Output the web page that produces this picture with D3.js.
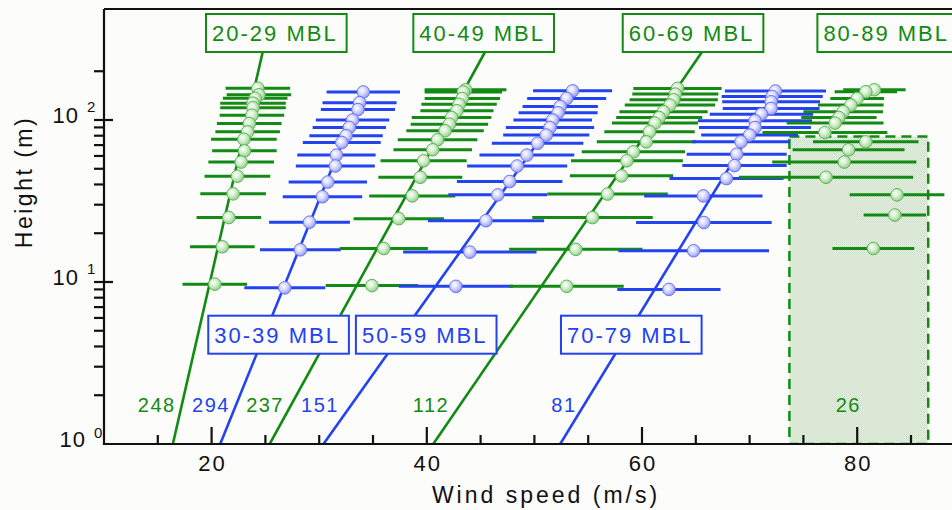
<!DOCTYPE html>
<html>
<head>
<meta charset="utf-8">
<script src="https://cdn.jsdelivr.net/npm/d3@7"></script>
<style>
  html, body { margin: 0; padding: 0; background: #fcfcfa; }
  svg { display: block; font-family: "Liberation Sans", Arial, Helvetica, sans-serif; }
</style>
</head>
<body>
<svg id="chart" width="952" height="510"></svg>
<script>
// ---- data -------------------------------------------------------------
// Mixed-boundary-layer depth bins and number of profiles in each
const layers = ["20-29 MBL", "30-39 MBL", "40-49 MBL", "50-59 MBL", "60-69 MBL", "70-79 MBL", "80-89 MBL"];
const counts = [248, 294, 237, 151, 112, 81, 26];

// mean height (m), mean wind speed (m/s) and standard deviation (m/s) per level
const h20 = [157, 143, 136, 127, 119, 107, 95, 84.5, 76, 64.5, 55, 45, 35, 25, 16.5, 9.7];
const u20 = [24.3, 24.4, 24.05, 23.85, 23.85, 23.75, 23.5, 23.35, 23.0, 23.05, 22.75, 22.4, 22.0, 21.6, 21.0, 20.3];
const s20 = [3.0, 3.0, 3.0, 3.05, 3.05, 3.0, 3.0, 3.0, 3.05, 3.0, 3.05, 3.05, 3.05, 3.0, 3.0, 3.0];

const h30 = [149, 128, 116, 100, 90, 80, 72.6, 60.7, 52, 41.4, 33.6, 23.4, 15.8, 9.2];
const u30 = [34.1, 33.75, 33.6, 33.1, 32.8, 32.5, 32.1, 31.6, 31.5, 30.8, 30.3, 29.1, 28.25, 26.8];
const s30 = [3.41, 3.44, 3.45, 3.41, 3.41, 3.41, 3.62, 3.64, 3.67, 3.64, 3.69, 3.76, 3.76, 3.76];

const h40 = [153.7, 149, 135.8, 125, 114, 103.6, 94.3, 85.8, 75.5, 65.5, 56, 44.3, 34, 24.6, 16.1, 9.5];
const u40 = [43.6, 43.4, 43.3, 43.0, 42.8, 42.3, 42.1, 41.7, 41.0, 40.55, 39.7, 39.4, 38.65, 37.4, 36.0, 34.9];
const s40 = [3.8, 3.6, 3.5, 3.5, 3.4, 3.7, 3.6, 3.6, 3.7, 3.65, 4.0, 3.9, 4.0, 4.2, 4.1, 4.3];

const h50 = [151.4, 135.8, 121, 110.8, 100, 89.9, 80.7, 71.9, 60.7, 52, 41.7, 34.5, 23.9, 15.3, 9.4];
const u50 = [53.55, 53.0, 52.4, 52.2, 51.7, 51.45, 51.1, 50.3, 49.3, 48.4, 47.7, 46.6, 45.5, 44.0, 42.7];
const s50 = [3.67, 3.67, 3.5, 3.67, 3.65, 4.1, 4.0, 4.25, 4.4, 4.65, 4.9, 4.6, 5.4, 6.2, 5.3];

const h60 = [156.6, 144.5, 133.3, 123.6, 112.5, 103.6, 95.7, 84.6, 73.3, 63.6, 56, 45.2, 34.9, 25, 15.9, 9.4];
const u60 = [63.3, 63.1, 62.95, 62.6, 62.0, 61.6, 61.2, 60.7, 60.4, 59.2, 58.6, 58.1, 56.8, 55.4, 53.85, 53.0];
const s60 = [4.1, 4.0, 4.1, 4.2, 4.1, 4.0, 4.0, 4.2, 4.6, 4.8, 5.2, 4.8, 5.6, 5.6, 6.2, 5.3];

const h70 = [151, 139.7, 129.5, 117.8, 108.7, 98.9, 89.9, 80.7, 73.3, 61.5, 52.3, 43.5, 34, 23.3, 15.6, 9.0];
const u70 = [72.4, 72.1, 72.0, 72.0, 71.1, 70.5, 70.5, 70.0, 69.2, 68.8, 68.6, 67.85, 65.7, 65.75, 64.8, 62.5];
const s70 = [4.7, 4.7, 4.55, 4.5, 4.8, 5.3, 5.2, 4.5, 4.55, 4.65, 4.85, 5.3, 5.5, 6.3, 7.0, 4.8];

const h80 = [153.7, 149.4, 135.8, 123.6, 112.5, 103.6, 95.7, 83.7, 73.3, 65.5, 55, 44.3, 34.5, 25.9, 16.1];
const u80 = [81.6, 80.8, 80.0, 79.4, 78.7, 78.3, 77.95, 77.0, 80.8, 79.2, 78.8, 77.1, 83.7, 83.5, 81.5];
const s80 = [2.9, 2.9, 2.5, 3.05, 3.7, 3.5, 4.5, 5.8, 4.9, 5.2, 6.7, 8.1, 4.4, 2.9, 3.8];

// log-law fits u(z) = a + b * log10(z): a = speed at 1 m, b = change per decade
const fitA = [16.4, 20.8, 25.4, 30.4, 40.6, 52.4, null];
const fitB = [3.45, 6.1, 8.27, 10.7, 10.32, 9.2, null];

// shaded envelope of the deepest layer
const envSpeed = [73.7, 86.6];
const envHeight = [1, 79];

// axis ticks
const xMajor = [20, 40, 60, 80];
const xMinor = [15, 25, 30, 35, 45, 50, 55, 65, 70, 75, 85];
const yMajor = [1, 10, 100];
const yMajorExp = ["0", "1", "2"];
const yMinor = [2, 3, 4, 5, 6, 7, 8, 9, 20, 30, 40, 50, 60, 70, 80, 90, 200];

// ---- layout -----------------------------------------------------------
const W = 952, H = 510;
const M = { left: 104, top: 9, bottom: 444 };
const GREEN = "#138a13", BLUE = "#2342f0";
const colors = [GREEN, BLUE, GREEN, BLUE, GREEN, BLUE, GREEN];
// label boxes: left edge in speed units, row 0 = top, 1 = bottom
const boxLeft = [19.48, 19.69, 38.75, 33.41, 58.21, 52.47, 76.3];
const boxRow = [0, 1, 0, 1, 0, 1, 0];
const boxTop = [14, 315.7], boxH = 38;
// count label centres in speed units
const countX = [14.9, 19.95, 24.97, 30.07, 40.39, 52.75, 79.17];

const series = [
  { h: h20, u: u20, s: s20 }, { h: h30, u: u30, s: s30 }, { h: h40, u: u40, s: s40 },
  { h: h50, u: u50, s: s50 }, { h: h60, u: u60, s: s60 }, { h: h70, u: u70, s: s70 },
  { h: h80, u: u80, s: s80 }
].map((d, i) => ({
  name: layers[i], count: counts[i], color: colors[i], a: fitA[i], b: fitB[i],
  pts: d.h.map((z, j) => ({ z, u: d.u[j], sd: d.s[j] }))
}));

const x = d3.scaleLinear().domain([10, 90]).range([M.left, M.left + 80 * 10.76]);
const y = d3.scaleLog().domain([1, Math.pow(10, 435 / 162)]).range([M.bottom, M.top]);

const svg = d3.select("#chart");
const defs = svg.append("defs");

defs.append("clipPath").attr("id", "plot")
  .append("rect").attr("x", M.left).attr("y", M.top).attr("width", W - M.left).attr("height", M.bottom - M.top);

// fine dotted texture for the shaded envelope
const pat = defs.append("pattern").attr("id", "dots").attr("width", 2).attr("height", 2)
  .attr("patternUnits", "userSpaceOnUse");
pat.append("rect").attr("width", 2).attr("height", 2).attr("fill", "#e2ecdf");
pat.append("rect").attr("width", 1).attr("height", 1).attr("fill", "#cfe0cb");
pat.append("rect").attr("x", 1).attr("y", 1).attr("width", 1).attr("height", 1).attr("fill", "#d6e5d2");

// glossy marker fills
function ballGradient(id, mid, edge) {
  const g = defs.append("radialGradient").attr("id", id)
    .attr("cx", "40%").attr("cy", "38%").attr("r", "65%");
  g.append("stop").attr("offset", "0%").attr("stop-color", "#ffffff");
  g.append("stop").attr("offset", "45%").attr("stop-color", mid);
  g.append("stop").attr("offset", "100%").attr("stop-color", edge);
}
ballGradient("ballG", "#d3efcd", "#8fcf86");
ballGradient("ballB", "#d7d9ff", "#8e96f4");

const plot = svg.append("g").attr("clip-path", "url(#plot)");

// envelope
plot.append("rect")
  .attr("x", x(envSpeed[0])).attr("y", y(envHeight[1]))
  .attr("width", x(envSpeed[1]) - x(envSpeed[0]))
  .attr("height", y(envHeight[0]) - y(envHeight[1]))
  .attr("fill", "url(#dots)")
  .attr("stroke", GREEN).attr("stroke-width", 2.5).attr("stroke-dasharray", "10,6");

// horizontal standard-deviation bars
series.forEach(s => {
  plot.append("g").selectAll("line").data(s.pts).join("line")
    .attr("x1", d => x(d.u - d.sd)).attr("x2", d => x(d.u + d.sd))
    .attr("y1", d => y(d.z)).attr("y2", d => y(d.z))
    .attr("stroke", s.color).attr("stroke-width", 3);
});

// log-law fit lines: green ones run up to their label box, blue ones to the top level
series.forEach((s, i) => {
  if (s.a == null) return;
  const zTop = boxRow[i] === 0 ? y.invert(boxTop[0] + boxH) : d3.max(s.pts, d => d.z);
  const zs = [1, zTop];
  plot.append("path")
    .attr("d", d3.line().x(z => x(s.a + s.b * Math.log10(z))).y(z => y(z))(zs))
    .attr("fill", "none").attr("stroke", s.color).attr("stroke-width", 2.6);
});

// label boxes
series.forEach((s, i) => {
  const g = plot.append("g");
  const t = g.append("text")
    .attr("x", x(boxLeft[i]) + 6)
    .attr("y", boxTop[boxRow[i]] + 27)
    .attr("font-size", 22).attr("letter-spacing", 2)
    .attr("fill", s.color).text(s.name);
  const len = t.node().getComputedTextLength();
  g.insert("rect", "text")
    .attr("x", x(boxLeft[i])).attr("y", boxTop[boxRow[i]])
    .attr("width", len + 15).attr("height", boxH)
    .attr("fill", "#fcfcfa").attr("stroke", s.color).attr("stroke-width", 2);
});

// mean markers
series.forEach((s, i) => {
  plot.append("g").selectAll("circle").data(s.pts).join("circle")
    .attr("cx", d => x(d.u)).attr("cy", d => y(d.z)).attr("r", 6.3)
    .attr("fill", s.color === GREEN ? "url(#ballG)" : "url(#ballB)")
    .attr("stroke", s.color === GREEN ? "#5fb35a" : "#6d74ee").attr("stroke-width", 1);
});

// profile counts
plot.append("g").selectAll("text").data(series).join("text")
  .attr("x", (d, i) => x(countX[i])).attr("y", 412)
  .attr("text-anchor", "middle").attr("font-size", 20).attr("letter-spacing", 1.5)
  .attr("fill", d => d.color).text(d => d.count);

// ---- axes ---------------------------------------------------------------
const ax = svg.append("g").attr("stroke", "#111").attr("stroke-width", 2.2);
ax.append("line").attr("x1", M.left).attr("x2", W).attr("y1", M.bottom).attr("y2", M.bottom);
ax.append("line").attr("x1", M.left).attr("x2", M.left).attr("y1", M.top).attr("y2", M.bottom + 1);
ax.append("line").attr("x1", M.left).attr("x2", W).attr("y1", M.top).attr("y2", M.top);

// x ticks point inward
ax.selectAll(".xmaj").data(xMajor).join("line")
  .attr("x1", d => x(d)).attr("x2", d => x(d)).attr("y1", M.bottom).attr("y2", M.bottom - 17);
ax.selectAll(".xmin").data(xMinor).join("line")
  .attr("x1", d => x(d)).attr("x2", d => x(d)).attr("y1", M.bottom).attr("y2", M.bottom - 9);
// y ticks: minor outward, major across the spine
ax.selectAll(".ymin").data(yMinor).join("line")
  .attr("x1", M.left - 10).attr("x2", M.left).attr("y1", d => y(d)).attr("y2", d => y(d));
ax.selectAll(".ymaj").data(yMajor.slice(1)).join("line")
  .attr("x1", M.left - 10).attr("x2", M.left + 9).attr("y1", d => y(d)).attr("y2", d => y(d));

svg.append("g").selectAll("text").data(xMajor).join("text")
  .attr("x", d => x(d) + 1).attr("y", 471)
  .attr("text-anchor", "middle").attr("font-size", 22).attr("letter-spacing", 2)
  .attr("fill", "#111").text(d => d);

svg.append("g").selectAll("text").data(yMajor).join("text")
  .attr("x", (d, i) => i === 0 ? 86 : 79)
  .attr("y", (d, i) => y(d) + (i === 0 ? 3 : 3))
  .attr("text-anchor", "end").attr("font-size", 22).attr("letter-spacing", 1).attr("fill", "#111")
  .text(d => "10");
svg.append("g").selectAll("text").data(yMajor).join("text")
  .attr("x", (d, i) => i === 0 ? 94 : 87)
  .attr("y", (d, i) => y(d) - (i === 0 ? 6 : 8))
  .attr("font-size", 15).attr("fill", "#111")
  .text((d, i) => yMajorExp[i]);

svg.append("text")
  .attr("x", 546).attr("y", 503).attr("text-anchor", "middle")
  .attr("font-size", 23).attr("letter-spacing", 3).attr("fill", "#111")
  .text("Wind speed (m/s)");
svg.append("text")
  .attr("transform", "translate(32,182) rotate(-90)").attr("text-anchor", "middle")
  .attr("font-size", 23).attr("letter-spacing", 2.5).attr("fill", "#111")
  .text("Height (m)");
</script>
</body>
</html>
